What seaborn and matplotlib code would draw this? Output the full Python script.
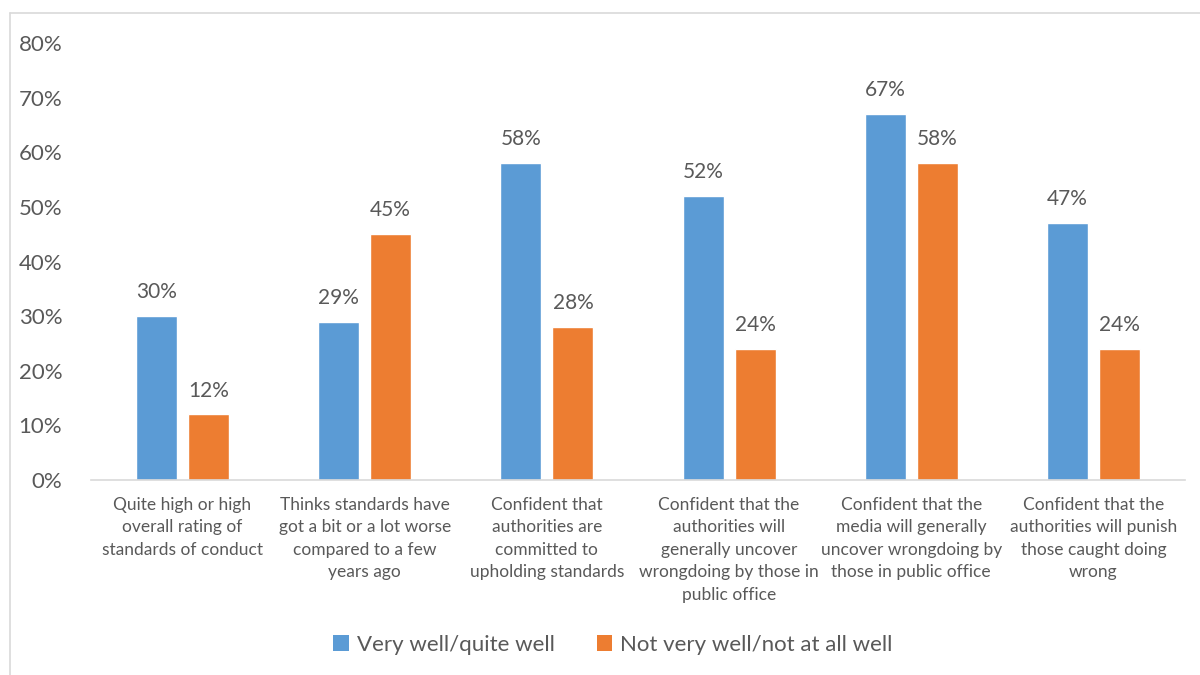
import pandas as pd
import matplotlib.pyplot as plt
import seaborn as sns
from matplotlib.lines import Line2D
from matplotlib.patches import Patch

categories = [
    "Quite high or high\noverall rating of\nstandards of conduct",
    "Thinks standards have\ngot a bit or a lot worse\ncompared to a few\nyears ago",
    "Confident that\nauthorities are\ncommitted to\nupholding standards",
    "Confident that the\nauthorities will\ngenerally uncover\nwrongdoing by those in\npublic office",
    "Confident that the\nmedia will generally\nuncover wrongdoing by\nthose in public office",
    "Confident that the\nauthorities will punish\nthose caught doing\nwrong",
]
series = ["Very well/quite well", "Not very well/not at all well"]
well = [30, 29, 58, 52, 67, 47]
not_well = [12, 45, 28, 24, 58, 24]
colors = ["#5B9BD5", "#ED7D31"]
text_color = "#595959"

df = pd.DataFrame({
    "category": categories * 2,
    "series": [series[0]] * 6 + [series[1]] * 6,
    "value": well + not_well,
})

sns.set_style("white")
plt.rcParams["font.family"] = ["Lato", "DejaVu Sans"]

fig = plt.figure(figsize=(12, 6.75), dpi=100)
ax = fig.add_axes([91.4 / 1200, 1 - 480 / 675, (1184.6 - 91.4) / 1200, (480 - 43) / 675])

sns.barplot(data=df, x="category", y="value", hue="series", palette=colors,
            width=0.571, gap=0.21, ax=ax, legend=False, saturation=1)

ax.set_ylim(0, 80)
ax.set_xlim(-0.5, 5.5)
ax.set_yticks(range(0, 81, 10))
ax.set_yticklabels([f"{v}%" for v in range(0, 81, 10)], fontsize=16, color=text_color)
ax.tick_params(axis="y", length=0, pad=21)
ax.tick_params(axis="x", length=0, pad=12, labelsize=12.5, labelcolor=text_color)
for lbl in ax.get_xticklabels():
    lbl.set_linespacing(1.5)
ax.set_xlabel("")
ax.set_ylabel("")

for side in ["top", "right", "left"]:
    ax.spines[side].set_visible(False)
ax.spines["bottom"].set_color("#D9D9D9")
ax.spines["bottom"].set_linewidth(1.2)

for container in ax.containers:
    ax.bar_label(container, labels=[f"{int(v)}%" for v in container.datavalues],
                 padding=10, fontsize=15, color=text_color)

# chart frame (top and left edges visible)
fig.add_artist(Line2D([10 / 1200, 1.0], [1 - 13 / 675, 1 - 13 / 675], color="#D9D9D9", lw=1.2))
fig.add_artist(Line2D([10 / 1200, 10 / 1200], [0, 1 - 13 / 675], color="#D9D9D9", lw=1.2))

handles = [Patch(facecolor=c, edgecolor="none") for c in colors]
fig.legend(handles, series, loc="center", bbox_to_anchor=(613 / 1200, 1 - 645 / 675),
           ncol=2, frameon=False, fontsize=16, labelcolor=text_color,
           handlelength=0.7, handleheight=0.7, handletextpad=0.35, columnspacing=1.9)

fig.savefig("out.png", dpi=100)
